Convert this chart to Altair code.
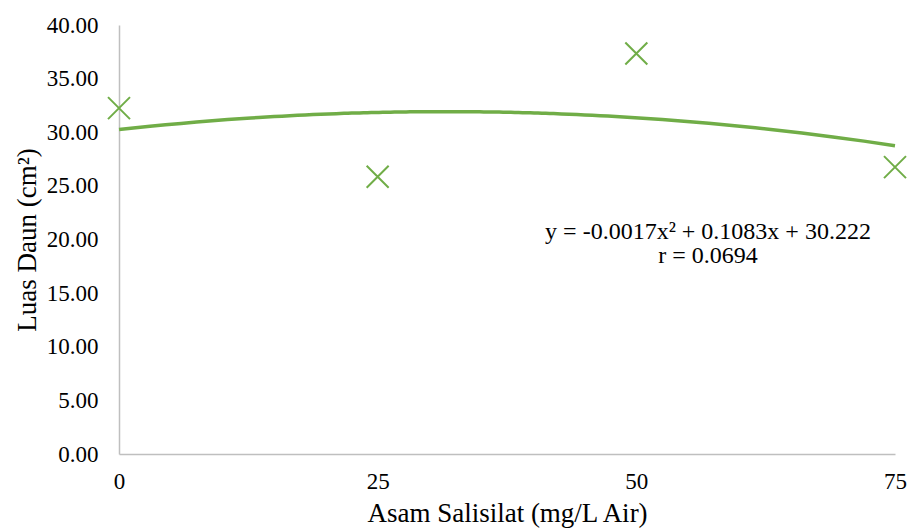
import altair as alt
import pandas as pd

dose = [0, 25, 50, 75]
leaf_area = [32.25, 25.85, 37.35, 26.75]
x_ticks = [0, 25, 50, 75]
y_ticks = [0, 5, 10, 15, 20, 25, 30, 35, 40]
eq_line1 = "y = -0.0017x\u00b2 + 0.1083x + 30.222"
eq_line2 = "r = 0.0694"

df = pd.DataFrame({"x": dose, "y": leaf_area})
GREEN = "#70AD47"
FONT = "Liberation Serif"

xs = alt.Scale(domain=[0, 75], nice=False, zero=False)
ys = alt.Scale(domain=[0, 40], nice=False)

x_enc = alt.X("x:Q", scale=xs, title="Asam Salisilat (mg/L Air)",
              axis=alt.Axis(values=x_ticks, format="d", grid=False, ticks=False,
                            labelFlush=False,
                            domainColor="#BFBFBF", domainWidth=1.5, labelPadding=16,
                            titlePadding=7))
y_enc = alt.Y("y:Q", scale=ys, title="Luas Daun (cm\u00b2)",
              axis=alt.Axis(values=y_ticks, format=".2f", grid=False, ticks=False,
                            labelFlush=False,
                            domainColor="#BFBFBF", domainWidth=1.5, labelPadding=21,
                            titlePadding=5))

base = alt.Chart(df)

trend = base.transform_regression(
    "x", "y", method="poly", order=2, extent=[0, 75]
).mark_line(color=GREEN, strokeWidth=3.5).encode(x=x_enc, y=y_enc)

points = base.mark_point(
    shape="M-1,-1L1,1M-1,1L1,-1", filled=False, size=484,
    stroke=GREEN, strokeWidth=2, opacity=1
).encode(x=x_enc, y=y_enc)

eq1 = alt.Chart(pd.DataFrame({"t": [eq_line1]})).mark_text(
    font=FONT, fontSize=24, color="black", align="center", baseline="middle"
).encode(x=alt.value(589), y=alt.value(207), text="t:N")

eq2 = alt.Chart(pd.DataFrame({"t": [eq_line2]})).mark_text(
    font=FONT, fontSize=24, color="black", align="center", baseline="middle"
).encode(x=alt.value(589), y=alt.value(231), text="t:N")

chart = alt.layer(trend, points, eq1, eq2).properties(
    width=776, height=429, autosize="none",
    padding={"left": 119, "top": 25, "right": 13, "bottom": 78},
).configure_view(stroke=None).configure_axis(
    labelFont=FONT, titleFont=FONT, labelFontSize=23, titleFontSize=27,
    labelColor="black", titleColor="black", titleFontWeight="normal",
)

chart.save("out.html", embed_options={"renderer": "svg", "actions": False})
